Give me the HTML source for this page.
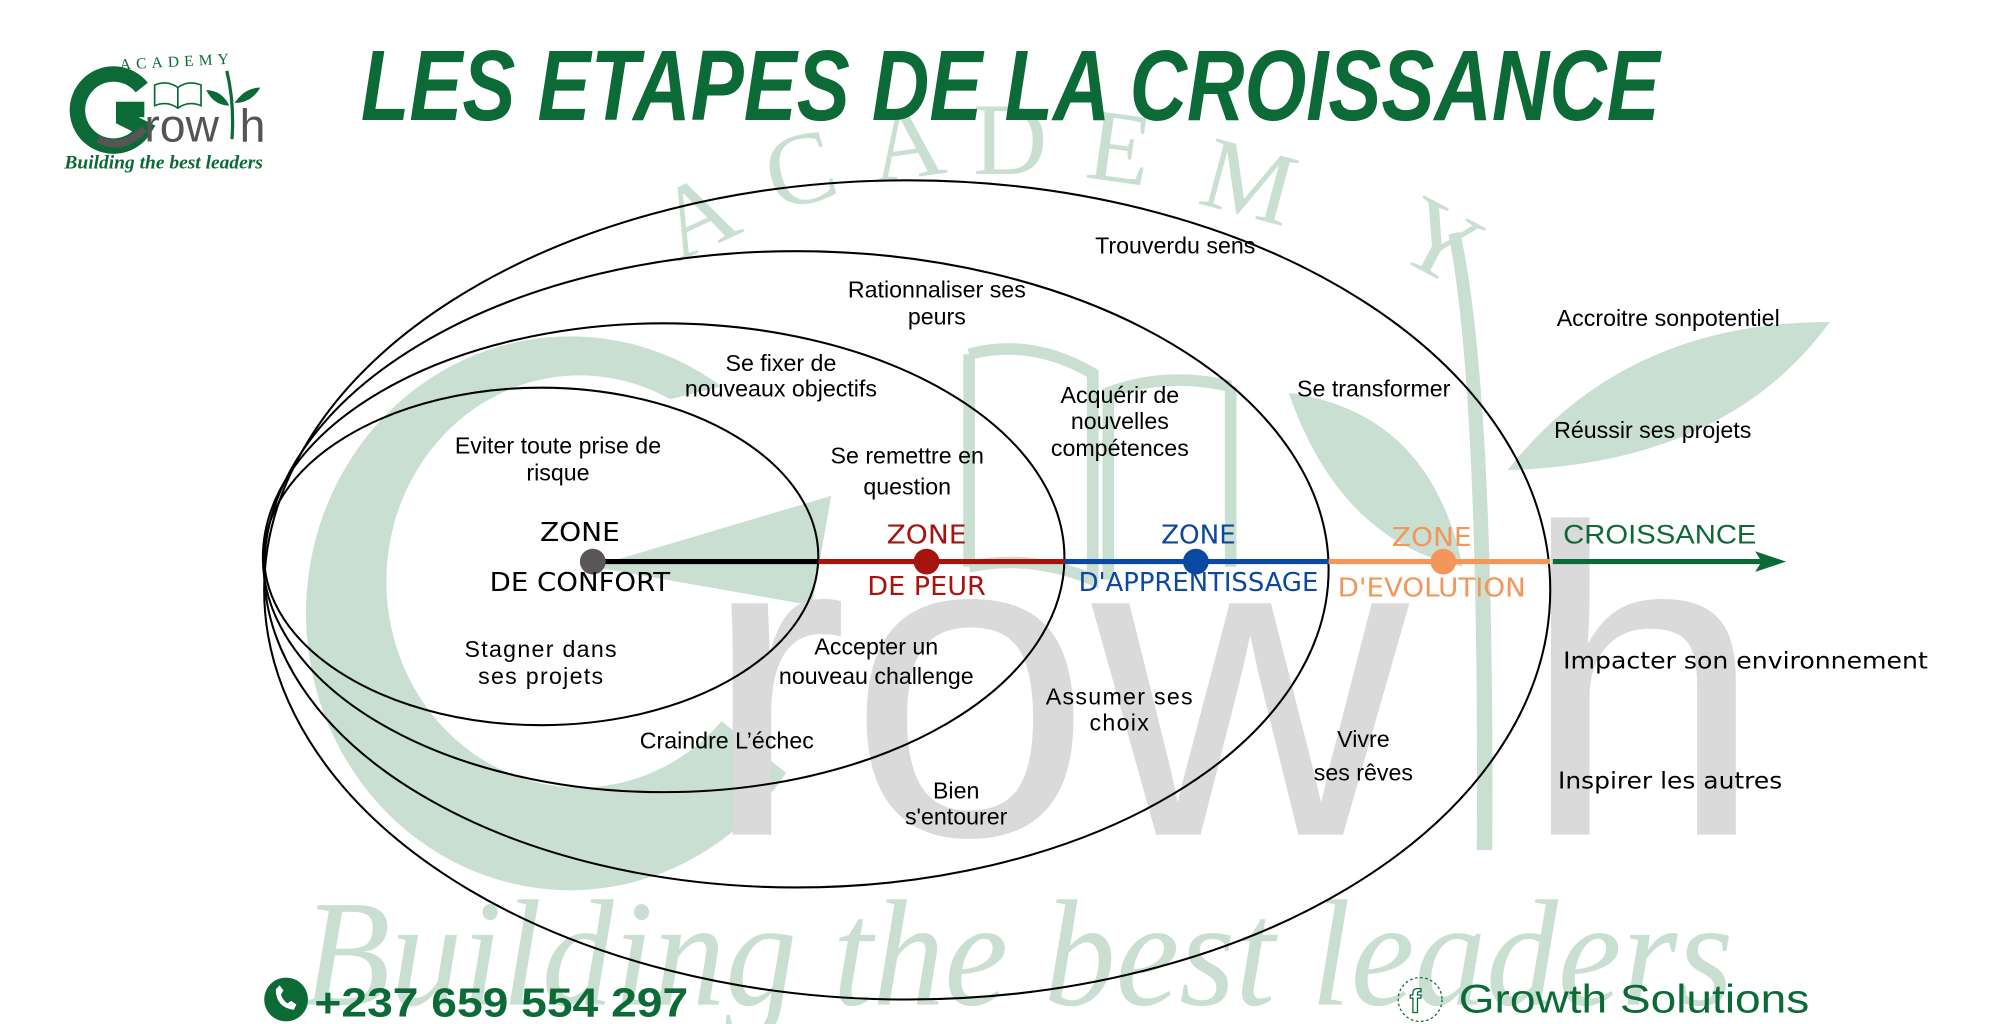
<!DOCTYPE html>
<html><head><meta charset="utf-8"><style>
html,body{margin:0;padding:0;background:#fff}
svg{display:block}
</style></head><body>
<svg width="2000" height="1024" viewBox="0 0 1552 795" preserveAspectRatio="none" xmlns="http://www.w3.org/2000/svg" font-family="Liberation Sans, sans-serif">
<rect width="1552" height="795" fill="#fff"/>
<!-- watermark -->
<g fill="#c9dfd2">
<path d="M560,300 A205,215 0 1 0 610,600 L560,560 A150,160 0 1 1 520,310 Z"/>
<path d="M460,440 L645,385 L630,470 Z"/>
<path d="M1000,305 Q1110,320 1135,440 Q1040,420 1000,305 Z"/>
<path d="M1170,365 Q1260,250 1420,250 Q1340,360 1170,365 Z"/>
<path d="M1133,180 Q1160,300 1158,660 L1146,660 Q1148,300 1124,182 Z"/>
</g>
<g fill="none" stroke="#c9dfd2" stroke-width="9">
<path d="M752,275 L752,440 M752,275 Q800,262 848,290 L848,450 Q800,430 752,440"/>
<path d="M955,300 L955,440 M955,300 Q905,288 860,305 L860,450"/>
</g>
<g font-family="Liberation Serif, serif" font-size="80" fill="#c9dfd2">
<text x="515" y="195" transform="rotate(-25 540 175)">A</text>
<text x="595" y="160" transform="rotate(-15 615 135)">C</text>
<text x="675" y="140" transform="rotate(-8 690 115)">A</text>
<text x="755" y="135">D</text>
<text x="845" y="140" transform="rotate(8 860 110)">E</text>
<text x="935" y="165" transform="rotate(15 960 135)">M</text>
<text x="1090" y="215" transform="rotate(28 1120 185)">Y</text>
</g>
<text x="545" y="648" font-size="340" fill="#dadada">row</text>
<text x="1180" y="648" font-size="340" fill="#dadada">h</text>
<text x="235" y="780" font-family="Liberation Serif, serif" font-style="italic" font-size="118" fill="#c9dfd2" textLength="1110" lengthAdjust="spacingAndGlyphs">Building the best leaders</text>

<!-- logo -->
<text x="93" y="52" font-family="Liberation Serif, serif" font-size="12" fill="#0b6a35" letter-spacing="4" transform="rotate(-3 130 50)">ACADEMY</text>
<path d="M110,68 A28,28 0 1 0 112,100 L96,92 L96,85 L112,85" fill="none" stroke="#0b6a35" stroke-width="12"/>
<path d="M76,108 Q95,118 112,100" fill="none" stroke="#555" stroke-width="6"/>
<text x="112" y="110" font-size="36" fill="#555">row</text>
<text x="186" y="110" font-size="36" fill="#555">h</text>
<path d="M176,55 Q182,80 180,108" stroke="#0b6a35" stroke-width="2.5" fill="none"/>
<path d="M160,70 Q172,70 178,82 Q166,82 160,70Z M182,80 Q190,68 202,68 Q195,80 182,80Z" fill="#0b6a35"/>
<path d="M120,66 L120,82 Q130,78 138,84 Q146,78 156,82 L156,66 Q146,62 138,68 Q130,62 120,66Z M138,68 L138,84" fill="none" stroke="#0b6a35" stroke-width="1.3"/>
<text x="50" y="131" font-family="Liberation Serif, serif" font-style="italic" font-weight="bold" font-size="15" fill="#0b6a35" textLength="154" lengthAdjust="spacingAndGlyphs">Building the best leaders</text>

<!-- title -->
<text x="280" y="93" font-size="78" font-weight="bold" font-style="italic" fill="#0b6a35" textLength="1008" lengthAdjust="spacingAndGlyphs">LES ETAPES DE LA CROISSANCE</text>

<!-- ellipses -->
<g fill="none" stroke="#000" stroke-width="1.6">
<ellipse cx="420" cy="432" rx="215" ry="131"/>
<ellipse cx="515" cy="433" rx="311" ry="182"/>
<ellipse cx="618" cy="442" rx="413" ry="247"/>
<ellipse cx="704" cy="458" rx="499" ry="318"/>
</g>
<!-- axis -->
<line x1="460" y1="436" x2="635" y2="436" stroke="#000" stroke-width="4"/>
<line x1="635" y1="436" x2="826" y2="436" stroke="#a6140e" stroke-width="4"/>
<line x1="826" y1="436" x2="1031" y2="436" stroke="#0b48a0" stroke-width="4"/>
<line x1="1031" y1="436" x2="1203" y2="436" stroke="#f4965a" stroke-width="4"/>
<line x1="1205" y1="436" x2="1372" y2="436" stroke="#0b6a35" stroke-width="4"/>
<path d="M1362,428 L1386,436 L1362,444 L1367,436 Z" fill="#0b6a35"/>
<circle cx="460" cy="436" r="10" fill="#5a5659"/>
<circle cx="719" cy="436" r="10" fill="#a6140e"/>
<circle cx="928" cy="436" r="10" fill="#0b48a0"/>
<circle cx="1120" cy="436" r="10" fill="#f4965a"/>

<g font-family="DejaVu Sans, sans-serif" font-size="20" text-anchor="middle">
<text x="450" y="420" fill="#000" textLength="62" lengthAdjust="spacingAndGlyphs">ZONE</text>
<text x="450" y="459" fill="#000" textLength="140" lengthAdjust="spacingAndGlyphs">DE CONFORT</text>
<text x="719" y="422" fill="#a6140e" textLength="62" lengthAdjust="spacingAndGlyphs">ZONE</text>
<text x="719" y="462" fill="#a6140e" textLength="92" lengthAdjust="spacingAndGlyphs">DE PEUR</text>
<text x="930" y="422" fill="#0b48a0" textLength="58" lengthAdjust="spacingAndGlyphs">ZONE</text>
<text x="930" y="459" fill="#0b48a0" textLength="186" lengthAdjust="spacingAndGlyphs">D'APPRENTISSAGE</text>
<text x="1111" y="424" fill="#f4965a" textLength="62" lengthAdjust="spacingAndGlyphs">ZONE</text>
<text x="1111" y="463" fill="#f4965a" textLength="146" lengthAdjust="spacingAndGlyphs">D'EVOLUTION</text>
</g>
<text x="1213" y="422" font-size="21" fill="#0b6a35" textLength="150" lengthAdjust="spacingAndGlyphs">CROISSANCE</text>

<g font-size="18" fill="#000" text-anchor="middle">
<text x="912" y="197">Trouverdu sens</text>
<text x="727" y="231">Rationnaliser ses</text>
<text x="727" y="252">peurs</text>
<text x="606" y="288">Se fixer de</text>
<text x="606" y="308">nouveaux objectifs</text>
<text x="869" y="313">Acquérir de</text>
<text x="869" y="333">nouvelles</text>
<text x="869" y="354">compétences</text>
<text x="433" y="352">Eviter toute prise de</text>
<text x="433" y="373">risque</text>
<text x="704" y="360">Se remettre en</text>
<text x="704" y="384">question</text>
<text x="1066" y="308">Se transformer</text>
<text x="420" y="510" letter-spacing="1">Stagner dans</text>
<text x="420" y="531" letter-spacing="1">ses projets</text>
<text x="680" y="508">Accepter un</text>
<text x="680" y="531">nouveau challenge</text>
<text x="869" y="547" letter-spacing="1">Assumer ses</text>
<text x="869" y="567" letter-spacing="1">choix</text>
<text x="564" y="581">Craindre L’échec</text>
<text x="1058" y="580">Vivre</text>
<text x="1058" y="606">ses rêves</text>
<text x="742" y="620">Bien</text>
<text x="742" y="640">s'entourer</text>
</g>
<g font-size="18" fill="#000">
<text x="1208" y="253">Accroitre sonpotentiel</text>
<text x="1206" y="340">Réussir ses projets</text>
</g>
<g font-family="DejaVu Sans, sans-serif" font-size="18" fill="#000">
<text x="1213" y="519" textLength="283" lengthAdjust="spacingAndGlyphs">Impacter son environnement</text>
<text x="1209" y="612" textLength="174" lengthAdjust="spacingAndGlyphs">Inspirer les autres</text>
</g>

<!-- footer -->
<circle cx="222" cy="776" r="17" fill="#0b6a35"/>
<path d="M214,768 q0,14 14,16 l2,-4 l-4,-3 l-3,2 q-4,-3 -5,-7 l2,-3 l-3,-4 z" fill="#fff"/>
<text x="244" y="789" font-size="32" font-weight="bold" fill="#0b6a35" textLength="290" lengthAdjust="spacingAndGlyphs">+237 659 554 297</text>
<circle cx="1102" cy="776" r="17" fill="none" stroke="#0b6a35" stroke-width="1" stroke-dasharray="2,2"/>
<text x="1094" y="786" font-size="26" font-weight="bold" fill="none" stroke="#0b6a35" stroke-width="1">f</text>
<text x="1132" y="786" font-size="31" fill="#0b6a35" textLength="272" lengthAdjust="spacingAndGlyphs">Growth Solutions</text>
</svg>
</body></html>
